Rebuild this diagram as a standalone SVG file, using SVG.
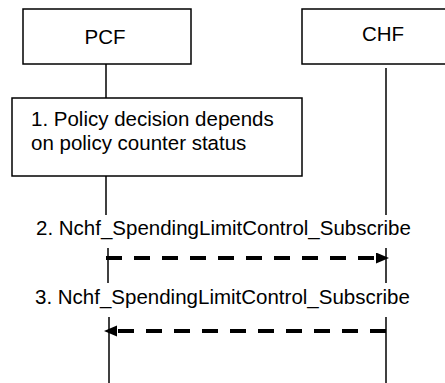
<svg xmlns="http://www.w3.org/2000/svg" width="445" height="383" viewBox="0 0 445 383">
<style>
.box{fill:#fff;stroke:#000;stroke-width:1.5}
.life{stroke:#000;stroke-width:1.5;fill:none}
.msg{stroke:#000;stroke-width:4;stroke-dasharray:16 12;fill:none}
text{font-family:"Liberation Sans",Arial,sans-serif;font-size:20.5px;fill:#000}
</style>
<defs>
<marker id="ah" markerUnits="userSpaceOnUse" markerWidth="14" markerHeight="12" refX="0" refY="5.5" orient="auto">
<path d="M0,0 L13,5.5 L0,11 z" fill="#000"/>
</marker>
</defs>
<g id="pcf">
<rect class="box" x="23" y="9" width="168" height="55"/>
<text x="105" y="44" text-anchor="middle">PCF</text>
</g>
<g id="chf">
<rect class="box" x="302" y="9" width="150" height="55"/>
<text x="383" y="41" text-anchor="middle">CHF</text>
</g>
<g id="step1">
<rect class="box" x="12" y="98" width="290" height="78"/>
<text x="31" y="126">1. Policy decision depends</text>
<text x="31" y="150">on policy counter status</text>
</g>
<g id="connectors">
<line class="life" x1="106" y1="64" x2="106" y2="98"/>
<line class="life" x1="106" y1="176" x2="106" y2="215"/>
<line class="life" x1="108" y1="248" x2="108" y2="283"/>
<line class="life" x1="109" y1="317" x2="109" y2="383"/>
<line class="life" x1="386" y1="68" x2="386" y2="215"/>
<line class="life" x1="386" y1="248" x2="386" y2="283"/>
<line class="life" x1="386" y1="317" x2="386" y2="383"/>
<line class="msg" x1="106" y1="258" x2="376" y2="258" marker-end="url(#ah)"/>
<line class="msg" x1="386" y1="331" x2="117" y2="331" marker-end="url(#ah)"/>
</g>
<g id="labels">
<text x="36" y="235">2. Nchf_SpendingLimitControl_Subscribe</text>
<text x="35" y="304">3. Nchf_SpendingLimitControl_Subscribe</text>
</g>
</svg>
